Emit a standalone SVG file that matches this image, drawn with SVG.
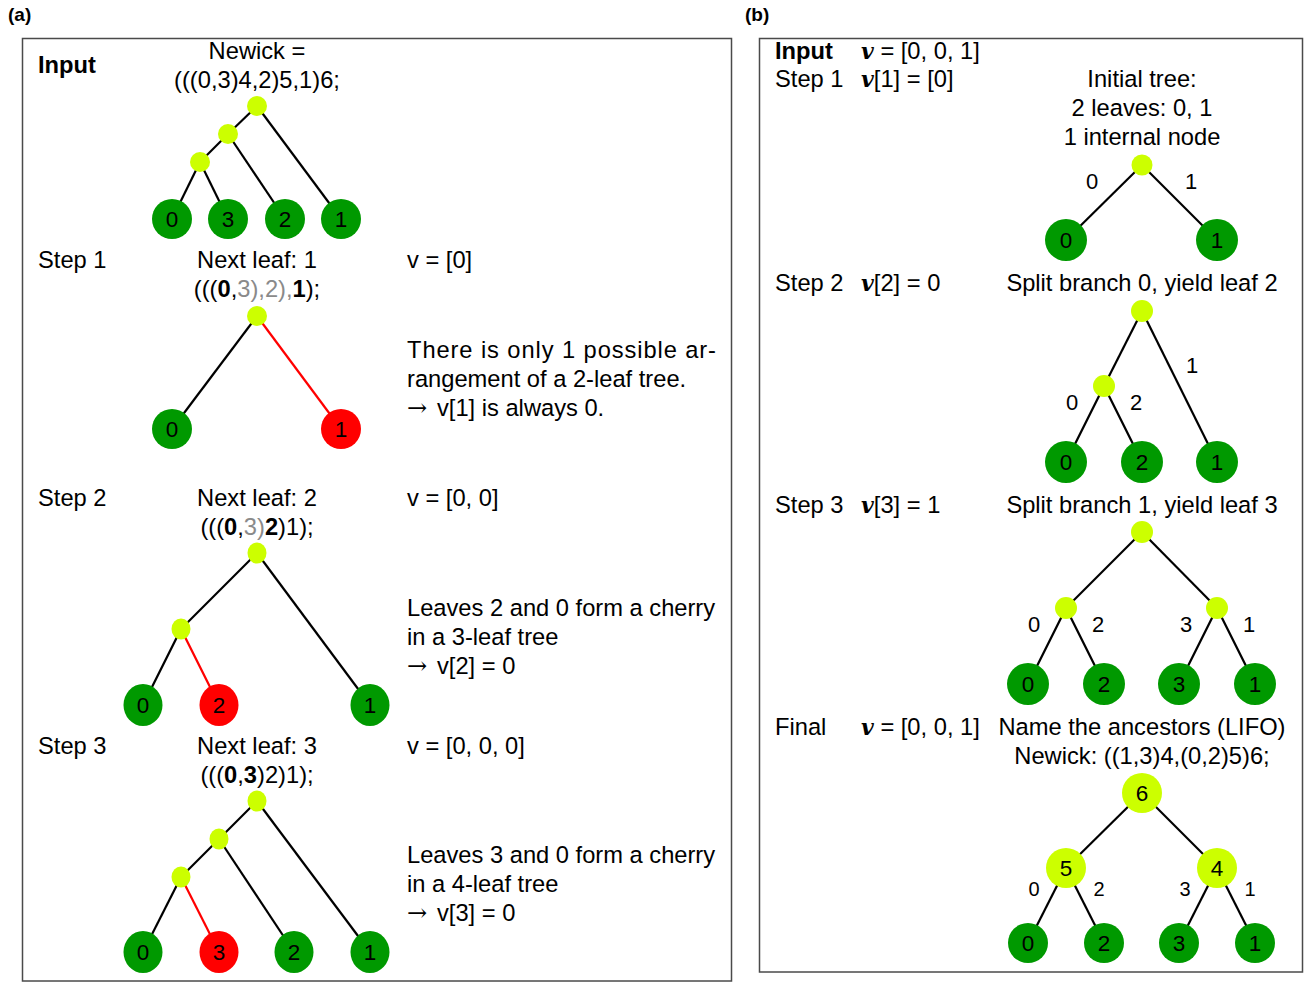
<svg xmlns="http://www.w3.org/2000/svg" width="1310" height="982" viewBox="0 0 1310 982">
  <style>
    text { font-family: "Liberation Sans", Arial, sans-serif; font-size: 23.7px; fill: #000; }
    .b { font-weight: bold; }
    .panel { font-weight: bold; font-size: 19px; }
    .mid { text-anchor: middle; }
    .grey { fill: #8a8a8a; }
    .arr { font-family: "DejaVu Serif", serif; font-size: 24px; }
    .vv { font-family: "DejaVu Serif", "Liberation Serif", serif; font-style: italic; font-weight: bold; font-size: 22px; }
    .frame { fill: #fff; stroke: #4a4a4a; stroke-width: 1.5; }
    .edge { stroke: #000; stroke-width: 2.2; fill: none; }
    .hot { stroke: #ff0000; }
    .leaf { fill: #009900; }
    .red { fill: #ff0000; }
    .inner { fill: #ccff00; }
    .nl { font-size: 22.5px; text-anchor: middle; }
    .el { font-size: 22px; text-anchor: middle; }
    .el2 { font-size: 20px; text-anchor: middle; }
  </style>

  <rect width="1310" height="982" fill="#fff"/>

  <!-- panel labels -->
  <text class="panel" x="8" y="21">(a)</text>
  <text class="panel" x="745" y="21">(b)</text>

  <!-- frames -->
  <rect class="frame" x="22.5" y="38.5" width="709" height="942.5"/>
  <rect class="frame" x="759.5" y="38.5" width="543" height="933.5"/>

  <!-- ===== panel (a) texts ===== -->
  <g id="a-input-text">
    <text class="b" x="38" y="73">Input</text>
    <text class="mid" x="257" y="59">Newick =</text>
    <text class="mid" x="257" y="88">(((0,3)4,2)5,1)6;</text>
  </g>
  <g id="a-step1-text">
    <text x="38" y="268">Step 1</text>
    <text class="mid" x="257" y="268">Next leaf: 1</text>
    <text class="mid" x="257" y="297">(((<tspan class="b">0</tspan>,<tspan class="grey">3),2),</tspan><tspan class="b">1</tspan>);</text>
    <text x="407" y="268">v = [0]</text>
    <text x="407" y="358" textLength="309" lengthAdjust="spacing">There is only 1 possible ar-</text>
    <text x="407" y="387">rangement of a 2-leaf tree.</text>
    <text x="407" y="416"><tspan class="arr">→</tspan><tspan x="437">v[1] is always 0.</tspan></text>
  </g>
  <g id="a-step2-text">
    <text x="38" y="506">Step 2</text>
    <text class="mid" x="257" y="506">Next leaf: 2</text>
    <text class="mid" x="257" y="535">(((<tspan class="b">0</tspan>,<tspan class="grey">3)</tspan><tspan class="b">2</tspan>)1);</text>
    <text x="407" y="506">v = [0, 0]</text>
    <text x="407" y="616">Leaves 2 and 0 form a cherry</text>
    <text x="407" y="645">in a 3-leaf tree</text>
    <text x="407" y="674"><tspan class="arr">→</tspan><tspan x="437">v[2] = 0</tspan></text>
  </g>
  <g id="a-step3-text">
    <text x="38" y="754">Step 3</text>
    <text class="mid" x="257" y="754">Next leaf: 3</text>
    <text class="mid" x="257" y="783">(((<tspan class="b">0</tspan>,<tspan class="b">3</tspan>)2)1);</text>
    <text x="407" y="754">v = [0, 0, 0]</text>
    <text x="407" y="863">Leaves 3 and 0 form a cherry</text>
    <text x="407" y="892">in a 4-leaf tree</text>
    <text x="407" y="921"><tspan class="arr">→</tspan><tspan x="437">v[3] = 0</tspan></text>
  </g>

  <!-- ===== panel (b) texts ===== -->
  <g id="b-text">
    <text class="b" x="775" y="59">Input</text>
    <text x="861" y="59"><tspan class="vv">v</tspan> = [0, 0, 1]</text>
    <text x="775" y="87">Step 1</text>
    <text x="861" y="87"><tspan class="vv">v</tspan>[1] = [0]</text>
    <text class="mid" x="1142" y="87">Initial tree:</text>
    <text class="mid" x="1142" y="116">2 leaves: 0, 1</text>
    <text class="mid" x="1142" y="145">1 internal node</text>

    <text x="775" y="291">Step 2</text>
    <text x="861" y="291"><tspan class="vv">v</tspan>[2] = 0</text>
    <text class="mid" x="1142" y="291">Split branch 0, yield leaf 2</text>

    <text x="775" y="513">Step 3</text>
    <text x="861" y="513"><tspan class="vv">v</tspan>[3] = 1</text>
    <text class="mid" x="1142" y="513">Split branch 1, yield leaf 3</text>

    <text x="775" y="735">Final</text>
    <text x="861" y="735"><tspan class="vv">v</tspan> = [0, 0, 1]</text>
    <text class="mid" x="1142" y="735">Name the ancestors (LIFO)</text>
    <text class="mid" x="1142" y="764">Newick: ((1,3)4,(0,2)5)6;</text>
  </g>

  <!-- ===== connectors ===== -->
  <g id="connectors">
    <!-- a: input tree -->
    <line class="edge" x1="257" y1="106" x2="228" y2="134"/>
    <line class="edge" x1="257" y1="106" x2="341" y2="219"/>
    <line class="edge" x1="228" y1="134" x2="200" y2="162"/>
    <line class="edge" x1="228" y1="134" x2="285" y2="219"/>
    <line class="edge" x1="200" y1="162" x2="172" y2="219"/>
    <line class="edge" x1="200" y1="162" x2="228" y2="219"/>
    <!-- a: step 1 -->
    <line class="edge" x1="257" y1="316" x2="172" y2="429"/>
    <line class="edge hot" x1="257" y1="316" x2="341" y2="429"/>
    <!-- a: step 2 -->
    <line class="edge" x1="257" y1="553" x2="181" y2="629"/>
    <line class="edge" x1="257" y1="553" x2="370" y2="705"/>
    <line class="edge" x1="181" y1="629" x2="143" y2="705"/>
    <line class="edge hot" x1="181" y1="629" x2="219" y2="705"/>
    <!-- a: step 3 -->
    <line class="edge" x1="257" y1="801" x2="219" y2="839"/>
    <line class="edge" x1="257" y1="801" x2="370" y2="952"/>
    <line class="edge" x1="219" y1="839" x2="181" y2="877"/>
    <line class="edge" x1="219" y1="839" x2="294" y2="952"/>
    <line class="edge" x1="181" y1="877" x2="143" y2="952"/>
    <line class="edge hot" x1="181" y1="877" x2="219" y2="952"/>
    <!-- b: step 1 -->
    <line class="edge" x1="1142" y1="165" x2="1066" y2="240"/>
    <line class="edge" x1="1142" y1="165" x2="1217" y2="240"/>
    <!-- b: step 2 -->
    <line class="edge" x1="1142" y1="311" x2="1104" y2="386"/>
    <line class="edge" x1="1142" y1="311" x2="1217" y2="462"/>
    <line class="edge" x1="1104" y1="386" x2="1066" y2="462"/>
    <line class="edge" x1="1104" y1="386" x2="1142" y2="462"/>
    <!-- b: step 3 -->
    <line class="edge" x1="1142" y1="532" x2="1066" y2="608"/>
    <line class="edge" x1="1142" y1="532" x2="1217" y2="608"/>
    <line class="edge" x1="1066" y1="608" x2="1028" y2="684"/>
    <line class="edge" x1="1066" y1="608" x2="1104" y2="684"/>
    <line class="edge" x1="1217" y1="608" x2="1179" y2="684"/>
    <line class="edge" x1="1217" y1="608" x2="1255" y2="684"/>
    <!-- b: final -->
    <line class="edge" x1="1142" y1="793" x2="1066" y2="868"/>
    <line class="edge" x1="1142" y1="793" x2="1217" y2="868"/>
    <line class="edge" x1="1066" y1="868" x2="1028" y2="943"/>
    <line class="edge" x1="1066" y1="868" x2="1104" y2="943"/>
    <line class="edge" x1="1217" y1="868" x2="1179" y2="943"/>
    <line class="edge" x1="1217" y1="868" x2="1255" y2="943"/>
  </g>

  <!-- edge labels, panel (b) -->
  <g id="edge-labels">
    <text class="el" x="1092" y="189">0</text>
    <text class="el" x="1191" y="189">1</text>
    <text class="el" x="1192" y="373">1</text>
    <text class="el" x="1072" y="410">0</text>
    <text class="el" x="1136" y="410">2</text>
    <text class="el" x="1034" y="632">0</text>
    <text class="el" x="1098" y="632">2</text>
    <text class="el" x="1186" y="632">3</text>
    <text class="el" x="1249" y="632">1</text>
    <text class="el2" x="1034" y="896">0</text>
    <text class="el2" x="1099" y="896">2</text>
    <text class="el2" x="1185" y="896">3</text>
    <text class="el2" x="1250" y="896">1</text>
  </g>

  <!-- ===== nodes, panel (a) input ===== -->
  <g id="a-in-n6"><circle class="inner" cx="257" cy="106" r="10"/></g>
  <g id="a-in-n5"><circle class="inner" cx="228" cy="134" r="10"/></g>
  <g id="a-in-n4"><circle class="inner" cx="200" cy="162" r="10"/></g>
  <g id="a-in-l0"><circle class="leaf" cx="172" cy="219" r="20"/><text class="nl" x="172" y="227">0</text></g>
  <g id="a-in-l3"><circle class="leaf" cx="228" cy="219" r="20"/><text class="nl" x="228" y="227">3</text></g>
  <g id="a-in-l2"><circle class="leaf" cx="285" cy="219" r="20"/><text class="nl" x="285" y="227">2</text></g>
  <g id="a-in-l1"><circle class="leaf" cx="341" cy="219" r="20"/><text class="nl" x="341" y="227">1</text></g>

  <!-- panel (a) step 1 -->
  <g id="a-s1-root"><circle class="inner" cx="257" cy="316" r="10"/></g>
  <g id="a-s1-l0"><circle class="leaf" cx="172" cy="429" r="20"/><text class="nl" x="172" y="437">0</text></g>
  <g id="a-s1-l1"><circle class="red" cx="341" cy="429" r="20"/><text class="nl" x="341" y="437">1</text></g>

  <!-- panel (a) step 2 -->
  <g id="a-s2-root"><ellipse class="inner" cx="257" cy="553" rx="9.5" ry="10.5"/></g>
  <g id="a-s2-int"><ellipse class="inner" cx="181" cy="629" rx="9.5" ry="10.5"/></g>
  <g id="a-s2-l0"><ellipse class="leaf" cx="143" cy="705" rx="19.5" ry="21"/><text class="nl" x="143" y="713">0</text></g>
  <g id="a-s2-l2"><ellipse class="red" cx="219" cy="705" rx="19.5" ry="21"/><text class="nl" x="219" y="713">2</text></g>
  <g id="a-s2-l1"><ellipse class="leaf" cx="370" cy="705" rx="19.5" ry="21"/><text class="nl" x="370" y="713">1</text></g>

  <!-- panel (a) step 3 -->
  <g id="a-s3-root"><ellipse class="inner" cx="257" cy="801" rx="9.5" ry="10.5"/></g>
  <g id="a-s3-int1"><ellipse class="inner" cx="219" cy="839" rx="9.5" ry="10.5"/></g>
  <g id="a-s3-int2"><ellipse class="inner" cx="181" cy="877" rx="9.5" ry="10.5"/></g>
  <g id="a-s3-l0"><ellipse class="leaf" cx="143" cy="952" rx="19.5" ry="21"/><text class="nl" x="143" y="960">0</text></g>
  <g id="a-s3-l3"><ellipse class="red" cx="219" cy="952" rx="19.5" ry="21"/><text class="nl" x="219" y="960">3</text></g>
  <g id="a-s3-l2"><ellipse class="leaf" cx="294" cy="952" rx="19.5" ry="21"/><text class="nl" x="294" y="960">2</text></g>
  <g id="a-s3-l1"><ellipse class="leaf" cx="370" cy="952" rx="19.5" ry="21"/><text class="nl" x="370" y="960">1</text></g>

  <!-- ===== nodes, panel (b) ===== -->
  <g id="b-s1-root"><circle class="inner" cx="1142" cy="165" r="10.5"/></g>
  <g id="b-s1-l0"><circle class="leaf" cx="1066" cy="240" r="21"/><text class="nl" x="1066" y="248">0</text></g>
  <g id="b-s1-l1"><circle class="leaf" cx="1217" cy="240" r="21"/><text class="nl" x="1217" y="248">1</text></g>

  <g id="b-s2-root"><circle class="inner" cx="1142" cy="311" r="11"/></g>
  <g id="b-s2-int"><circle class="inner" cx="1104" cy="386" r="11"/></g>
  <g id="b-s2-l0"><circle class="leaf" cx="1066" cy="462" r="21"/><text class="nl" x="1066" y="470">0</text></g>
  <g id="b-s2-l2"><circle class="leaf" cx="1142" cy="462" r="21"/><text class="nl" x="1142" y="470">2</text></g>
  <g id="b-s2-l1"><circle class="leaf" cx="1217" cy="462" r="21"/><text class="nl" x="1217" y="470">1</text></g>

  <g id="b-s3-root"><circle class="inner" cx="1142" cy="532" r="11"/></g>
  <g id="b-s3-intL"><circle class="inner" cx="1066" cy="608" r="11"/></g>
  <g id="b-s3-intR"><circle class="inner" cx="1217" cy="608" r="11"/></g>
  <g id="b-s3-l0"><circle class="leaf" cx="1028" cy="684" r="21"/><text class="nl" x="1028" y="692">0</text></g>
  <g id="b-s3-l2"><circle class="leaf" cx="1104" cy="684" r="21"/><text class="nl" x="1104" y="692">2</text></g>
  <g id="b-s3-l3"><circle class="leaf" cx="1179" cy="684" r="21"/><text class="nl" x="1179" y="692">3</text></g>
  <g id="b-s3-l1"><circle class="leaf" cx="1255" cy="684" r="21"/><text class="nl" x="1255" y="692">1</text></g>

  <g id="b-fin-n6"><circle class="inner" cx="1142" cy="793" r="20"/><text class="nl" x="1142" y="801">6</text></g>
  <g id="b-fin-n5"><circle class="inner" cx="1066" cy="868" r="20"/><text class="nl" x="1066" y="876">5</text></g>
  <g id="b-fin-n4"><circle class="inner" cx="1217" cy="868" r="20"/><text class="nl" x="1217" y="876">4</text></g>
  <g id="b-fin-l0"><circle class="leaf" cx="1028" cy="943" r="20"/><text class="nl" x="1028" y="951">0</text></g>
  <g id="b-fin-l2"><circle class="leaf" cx="1104" cy="943" r="20"/><text class="nl" x="1104" y="951">2</text></g>
  <g id="b-fin-l3"><circle class="leaf" cx="1179" cy="943" r="20"/><text class="nl" x="1179" y="951">3</text></g>
  <g id="b-fin-l1"><circle class="leaf" cx="1255" cy="943" r="20"/><text class="nl" x="1255" y="951">1</text></g>
</svg>
